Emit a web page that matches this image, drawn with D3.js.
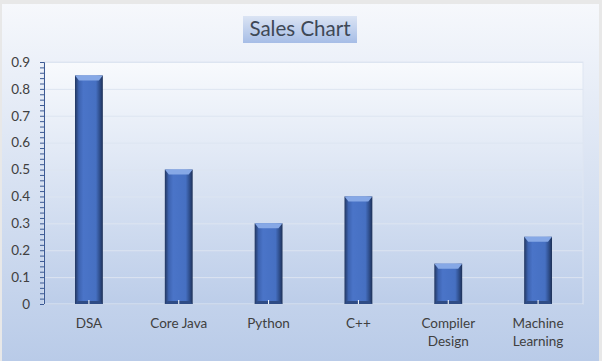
<!DOCTYPE html>
<html>
<head>
<meta charset="utf-8">
<script src="https://cdn.jsdelivr.net/npm/d3@7"></script>
<style>
  body { margin: 0; background: #fff; }
  svg { display: block; font-family: Lato, "Open Sans", sans-serif; }
</style>
</head>
<body>
<svg id="chart" width="602" height="361"></svg>
<script>
// chart data
const courses = ['DSA', 'Core Java', 'Python', 'C++', 'Compiler Design', 'Machine Learning'];
const sales = [0.85, 0.5, 0.3, 0.4, 0.15, 0.25];
const yTicks = [0, 0.1, 0.2, 0.3, 0.4, 0.5, 0.6, 0.7, 0.8, 0.9];

const width = 602;
const height = 361;
const margin = { top: 62, right: 19, bottom: 57, left: 44 };

const svg = d3.select('#chart');
const defs = svg.append('defs');

// background gradients
const bg = defs.append('linearGradient').attr('id', 'bg').attr('x1', 0).attr('y1', 0).attr('x2', 0).attr('y2', 1);
bg.append('stop').attr('offset', '0%').attr('stop-color', '#f6f8fc');
bg.append('stop').attr('offset', '100%').attr('stop-color', '#b9cbe8');

const plotBg = defs.append('linearGradient').attr('id', 'plotBg').attr('x1', 0).attr('y1', 0).attr('x2', 0).attr('y2', 1);
plotBg.append('stop').attr('offset', '0%').attr('stop-color', '#f8fafd');
plotBg.append('stop').attr('offset', '100%').attr('stop-color', '#bccde9');

const titleBg = defs.append('linearGradient').attr('id', 'titleBg').attr('x1', 0).attr('y1', 0).attr('x2', 0).attr('y2', 1);
titleBg.append('stop').attr('offset', '0%').attr('stop-color', '#dbe4f4');
titleBg.append('stop').attr('offset', '100%').attr('stop-color', '#a6bde6');

const barGrad = defs.append('linearGradient').attr('id', 'barGrad').attr('x1', 0).attr('y1', 0).attr('x2', 1).attr('y2', 0);
barGrad.append('stop').attr('offset', '0%').attr('stop-color', '#22365f');
barGrad.append('stop').attr('offset', '14%').attr('stop-color', '#3d63b0');
barGrad.append('stop').attr('offset', '30%').attr('stop-color', '#4a74c8');
barGrad.append('stop').attr('offset', '75%').attr('stop-color', '#4670c2');
barGrad.append('stop').attr('offset', '88%').attr('stop-color', '#30508f');
barGrad.append('stop').attr('offset', '100%').attr('stop-color', '#1e3157');

// spreadsheet strip at top
svg.append('rect').attr('x', 0).attr('y', 0).attr('width', width).attr('height', height).attr('fill', '#e8e8e8');
svg.append('rect').attr('x', 2).attr('y', 4).attr('width', 597).attr('height', 357).attr('fill', 'url(#bg)');

const x = d3.scaleBand()
  .domain(courses)
  .range([margin.left, width - margin.right])
  .paddingInner(0.69)
  .paddingOuter(0.345);

const y = d3.scaleLinear()
  .domain([0, 0.9])
  .range([height - margin.bottom, margin.top]);

// plot area
svg.append('rect')
  .attr('x', margin.left).attr('y', margin.top)
  .attr('width', width - margin.left - margin.right)
  .attr('height', y(0) - margin.top)
  .attr('fill', 'url(#plotBg)')
  .attr('stroke', '#dfe6f2');

// gridlines
svg.append('g')
  .selectAll('line')
  .data(yTicks.slice(1))
  .join('line')
  .attr('x1', margin.left).attr('x2', width - margin.right)
  .attr('y1', d => y(d) + 0.5).attr('y2', d => y(d) + 0.5)
  .attr('stroke', '#dde5f1').attr('stroke-width', 1);

// bars
const bars = svg.append('g').selectAll('g')
  .data(courses.map((c, i) => ({ course: c, value: sales[i] })))
  .join('g');

bars.append('rect')
  .attr('x', d => x(d.course))
  .attr('y', d => y(d.value))
  .attr('width', x.bandwidth())
  .attr('height', d => y(0) - y(d.value))
  .attr('fill', 'url(#barGrad)');

// top bevel
bars.append('path')
  .attr('d', d => {
    const x0 = x(d.course), w = x.bandwidth(), t = y(d.value);
    return `M${x0},${t}L${x0 + w},${t}L${x0 + w - 4},${t + 5}L${x0 + 4},${t + 5}Z`;
  })
  .attr('fill', '#86a8e6');

// bottom bevel
bars.append('path')
  .attr('d', d => {
    const x0 = x(d.course), w = x.bandwidth(), b = y(0);
    return `M${x0},${b}L${x0 + w},${b}L${x0 + w - 3},${b - 3}L${x0 + 3},${b - 3}Z`;
  })
  .attr('fill', '#2f4c85');

// y axis
const yAxis = svg.append('g')
  .attr('transform', `translate(${margin.left},0)`)
  .call(d3.axisLeft(y).tickValues(d3.range(0, 46).map(i => i * 0.02)).tickSize(4).tickFormat(''));
yAxis.select('.domain').attr('stroke', '#3c5a94');
yAxis.selectAll('.tick line').attr('stroke', '#3c5a94');

svg.append('g')
  .selectAll('text')
  .data(yTicks)
  .join('text')
  .attr('x', 30)
  .attr('y', d => y(d))
  .attr('dy', '0.35em')
  .attr('text-anchor', 'end')
  .attr('font-size', 13.5)
  .attr('fill', '#404040')
  .text(d => d3.format('')(+d.toFixed(1)));

// x axis line and ticks
svg.append('line')
  .attr('x1', margin.left).attr('x2', width - margin.right)
  .attr('y1', y(0) + 0.5).attr('y2', y(0) + 0.5)
  .attr('stroke', '#c8d4e8');

svg.append('g').selectAll('line')
  .data(courses)
  .join('line')
  .attr('x1', d => x(d) + x.bandwidth() / 2).attr('x2', d => x(d) + x.bandwidth() / 2)
  .attr('y1', y(0) - 4).attr('y2', y(0))
  .attr('stroke', '#ffffff');

// category labels
const labels = svg.append('g').selectAll('text')
  .data(courses)
  .join('text')
  .attr('x', d => x(d) + x.bandwidth() / 2)
  .attr('y', 328)
  .attr('text-anchor', 'middle')
  .attr('font-size', 13.5)
  .attr('fill', '#404040');

labels.each(function (d) {
  const words = d.split(' ');
  const lines = (d === 'Core Java') ? [d] : words;
  d3.select(this).selectAll('tspan')
    .data(lines)
    .join('tspan')
    .attr('x', x(d) + x.bandwidth() / 2)
    .attr('dy', (l, i) => i === 0 ? 0 : 18)
    .text(l => l);
});

// title
svg.append('rect')
  .attr('x', 243).attr('y', 16).attr('width', 114).attr('height', 27)
  .attr('fill', 'url(#titleBg)');
svg.append('text')
  .attr('x', 300).attr('y', 36)
  .attr('text-anchor', 'middle')
  .attr('font-size', 20.5)
  .attr('fill', '#3e4856')
  .text('Sales Chart');
</script>
</body>
</html>
